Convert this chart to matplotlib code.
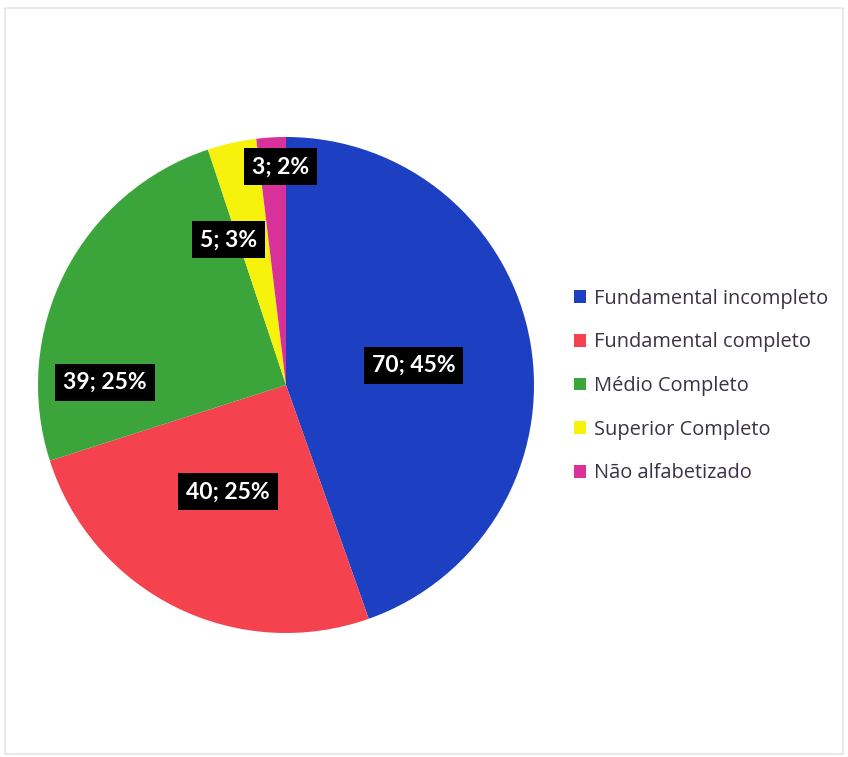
import numpy as np
import matplotlib
matplotlib.use('Agg')
import matplotlib.pyplot as plt
from matplotlib.patches import Rectangle

categories = ['Fundamental incompleto', 'Fundamental completo', 'Médio Completo',
              'Superior Completo', 'Não alfabetizado']
counts = [70, 40, 39, 5, 3]
percents = [45, 25, 25, 3, 2]
colors = ['#1d3fc2', '#f4434f', '#3ba53c', '#f6f20c', '#d8329a']

# label placement (radius fraction, angle nudge in degrees)
label_r = [0.52, 0.49, 0.73, 0.63, 0.88]
label_nudge = [-1, -2, 26, 9, -2]

plt.rcParams['font.family'] = ['Lato', 'DejaVu Sans']

fig = plt.figure(figsize=(8.48, 7.57), dpi=100)
fig.patches.append(Rectangle((0.006, 0.004), 0.988, 0.986, transform=fig.transFigure,
                             fill=False, edgecolor='#e4e4ee', linewidth=1.2))

ax = fig.add_axes([38 / 848, 1 - 633 / 757, 496 / 848, 496 / 757])
wedges, _ = ax.pie(counts, colors=colors, startangle=90, counterclock=False,
                   radius=1.0, wedgeprops=dict(linewidth=0))
ax.set_xlim(-1, 1)
ax.set_ylim(-1, 1)
ax.set_aspect('equal')

for w, c, p, r, n in zip(wedges, counts, percents, label_r, label_nudge):
    mid = np.deg2rad((w.theta1 + w.theta2) / 2 + n)
    ax.text(r * np.cos(mid), r * np.sin(mid), f'{c}; {p}%', ha='center', va='center',
            color='white', fontsize=16.5, fontweight='bold',
            bbox=dict(boxstyle='square,pad=0.35', facecolor='black', edgecolor='none'))

leg = fig.legend(wedges, categories, loc='upper left', bbox_to_anchor=(0.667, 0.629),
                 frameon=False, prop={'family': 'Open Sans', 'size': 14.4},
                 handlelength=0.6, handleheight=0.6,
                 handletextpad=0.42, labelspacing=1.18, borderaxespad=0)
for t in leg.get_texts():
    t.set_color('#3b3345')

fig.savefig('out.png', dpi=100, facecolor='white')
